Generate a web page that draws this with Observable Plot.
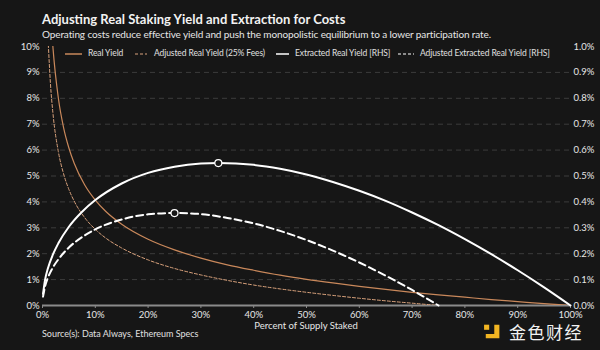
<!DOCTYPE html>
<html>
<head>
<meta charset="utf-8">
<script src="https://cdn.jsdelivr.net/npm/d3@7"></script>
<script src="https://cdn.jsdelivr.net/npm/@observablehq/plot@0.6"></script>
<style>
  html, body { margin: 0; padding: 0; background: #161616; }
  #page { position: relative; width: 600px; height: 350px; overflow: hidden; background: #161616; font-family: Lato, "Open Sans", sans-serif; color: #e8e8e8; }
  .abs { position: absolute; white-space: nowrap; line-height: 1; }
  #title { left: 42px; top: 13px; font-size: 13px; font-weight: 700; color: #f2f2f2; }
  #subtitle { left: 42px; top: 29px; font-size: 10px; letter-spacing: -0.12px; color: #e6e6e6; }
  #chart { position: absolute; left: 0; top: 0; }
  #xlabel { left: 306px; top: 321px; transform: translateX(-50%); font-size: 9.5px; color: #e6e6e6; }
  #source { left: 42px; top: 329px; font-size: 9px; color: #e0e0e0; }
  #wm { left: 483px; top: 323px; display: flex; align-items: center; line-height: 1; }
  #wm span { font-family: "Noto Sans CJK SC", sans-serif; font-size: 17px; line-height: 1; color: #f2f2f2; margin-left: 6px; letter-spacing: 1.5px; }
</style>
</head>
<body>
<div id="page">
  <div id="chart"></div>
  <div id="title" class="abs">Adjusting Real Staking Yield and Extraction for Costs</div>
  <div id="subtitle" class="abs">Operating costs reduce effective yield and push the monopolistic equilibrium to a lower participation rate.</div>
  <div id="legend"></div>
  <div id="xlabel" class="abs">Percent of Supply Staked</div>
  <div id="source" class="abs">Source(s): Data Always, Ethereum Specs</div>
  <div id="wm" class="abs">
    <svg width="20" height="17" viewBox="0 0 21 20"><rect x="0" y="2" width="6" height="6" fill="#f2b522"/><path d="M11 2 H18 V18 H2 V13 H12 V2 Z" fill="#f2b522"/></svg>
    <span>金色财经</span>
  </div>
</div>
<script>
// Percent of supply staked (x, %) and yields (%)
const realX = [1.9, 2, 3, 4, 5, 6, 8, 10, 12, 15, 20, 25, 30, 35, 40, 45, 50, 55, 60, 65, 70, 75, 80, 85, 90, 95, 100];
const realY = [10.18, 9.91, 8.01, 6.86, 6.08, 5.49, 4.65, 4.07, 3.63, 3.14, 2.56, 2.15, 1.83, 1.57, 1.36, 1.17, 1.01, 0.87, 0.74, 0.62, 0.51, 0.41, 0.32, 0.23, 0.15, 0.07, 0];

const adjX = [1.1, 1.5, 2, 3, 4, 5, 6, 8, 10, 12, 15, 20, 25, 30, 35, 40, 45, 50, 55, 60, 65, 70, 75];
const adjY = [10.08, 8.58, 7.38, 5.94, 5.08, 4.48, 4.03, 3.39, 2.94, 2.60, 2.22, 1.76, 1.43, 1.18, 0.97, 0.79, 0.64, 0.51, 0.39, 0.28, 0.18, 0.09, 0];

// Right-hand scale (RHS) series, in %
const extX = [0.1, 0.5, 1, 2, 3, 5, 7.5, 10, 15, 20, 25, 30, 33.3, 40, 45, 50, 55, 60, 65, 70, 75, 80, 85, 90, 95, 100];
const extY = [0.045, 0.101, 0.142, 0.198, 0.240, 0.304, 0.362, 0.407, 0.471, 0.512, 0.536, 0.548, 0.550, 0.543, 0.528, 0.506, 0.477, 0.443, 0.404, 0.359, 0.310, 0.256, 0.198, 0.136, 0.070, 0];

const adjExtX = [0.1, 0.5, 1, 2, 3, 5, 7.5, 10, 15, 20, 25, 30, 35, 40, 45, 50, 55, 60, 65, 70, 75];
const adjExtY = [0.034, 0.075, 0.106, 0.148, 0.178, 0.224, 0.264, 0.294, 0.332, 0.352, 0.357, 0.353, 0.338, 0.317, 0.288, 0.253, 0.212, 0.166, 0.115, 0.060, 0];

// Equilibrium markers (RHS)
const peakX = [33.3, 25];
const peakY = [0.550, 0.357];

const xTicks = [0, 10, 20, 30, 40, 50, 60, 70, 80, 90, 100];
const leftTicks = [0, 1, 2, 3, 4, 5, 6, 7, 8, 9, 10];
const rightTicks = [0, 0.1, 0.2, 0.3, 0.4, 0.5, 0.6, 0.7, 0.8, 0.9, 1.0];
const gridTicks = [1, 2, 3, 4, 5, 6, 7, 8, 9];

const legendLabels = ["Real Yield", "Adjusted Real Yield (25% Fees)", "Extracted Real Yield [RHS]", "Adjusted Extracted Real Yield [RHS]"];

const RHS = 10; // left units per right unit
const zip = (xs, ys) => xs.map((x, i) => ({x, y: ys[i]}));
const real = zip(realX, realY);
const adj = zip(adjX, adjY);
const ext = zip(extX, extY);
const adjExt = zip(adjExtX, adjExtY);
const peaks = zip(peakX, peakY);

const ORANGE = "#c9885b";
const ORANGE_L = "#d9a27c";

const chart = Plot.plot({
  width: 600,
  height: 350,
  marginLeft: 42,
  marginRight: 30,
  marginTop: 46,
  marginBottom: 45,
  style: {background: "transparent", color: "#e6e6e6", fontFamily: "Lato, 'Open Sans', sans-serif", fontSize: "9.5px"},
  x: {domain: [0, 100]},
  y: {domain: [0, 10]},
  marks: [
    Plot.ruleY(gridTicks, {stroke: "#3c3c3c", strokeDasharray: "5,4", strokeWidth: 1}),
    Plot.axisY({ticks: leftTicks, tickFormat: d => d + "%", tickSize: 0, tickPadding: 3, label: null}),
    Plot.axisY({anchor: "right", ticks: leftTicks, tickFormat: (d, i) => rightTicks[i].toFixed(1) + "%", tickSize: 0, tickPadding: 3, label: null}),
    Plot.axisX({ticks: xTicks, tickFormat: d => d + "%", tickSize: 3, tickPadding: 3, label: null, stroke: "#8a8a8a"}),
    Plot.ruleY([0], {stroke: "#8a8a8a", strokeWidth: 2}),
    Plot.line(adj, {x: "x", y: "y", stroke: ORANGE_L, strokeWidth: 1, strokeDasharray: "3,2", curve: "monotone-x", clip: true}),
    Plot.line(real, {x: "x", y: "y", stroke: ORANGE, strokeWidth: 1.2, curve: "monotone-x", clip: true}),
    Plot.line(adjExt, {x: "x", y: d => d.y * RHS, stroke: "#ffffff", strokeWidth: 2, strokeDasharray: "7,4", curve: "monotone-x"}),
    Plot.line(ext, {x: "x", y: d => d.y * RHS, stroke: "#ffffff", strokeWidth: 2, curve: "monotone-x"}),
    Plot.dot(peaks, {x: "x", y: d => d.y * RHS, r: 3.5, fill: "#161616", stroke: "#ffffff", strokeWidth: 1.2})
  ]
});
document.getElementById("chart").appendChild(chart);

// Legend
const legPos = [[65, 88], [135, 154], [276, 295], [398, 420]];
const legStyles = [
  {stroke: ORANGE, dash: null, w: 17, sw: 1.5},
  {stroke: ORANGE_L, dash: "3,2", w: 12, sw: 1.2},
  {stroke: "#ffffff", dash: null, w: 13, sw: 1.5},
  {stroke: "#ffffff", dash: "3,2", w: 16, sw: 1.2}
];
const legend = document.getElementById("legend");
legendLabels.forEach((lab, i) => {
  const s = legStyles[i];
  const sw = document.createElementNS("http://www.w3.org/2000/svg", "svg");
  sw.setAttribute("width", s.w); sw.setAttribute("height", 12);
  sw.style.position = "absolute"; sw.style.left = legPos[i][0] + "px"; sw.style.top = "48px";
  sw.innerHTML = `<line x1="0" x2="${s.w}" y1="6" y2="6" stroke="${s.stroke}" stroke-width="${s.sw}" ${s.dash ? `stroke-dasharray="${s.dash}"` : ""}/>`;
  legend.appendChild(sw);
  const t = document.createElement("div");
  t.className = "abs"; t.style.left = legPos[i][1] + "px"; t.style.top = "49px";
  t.style.fontSize = "8.5px"; t.style.letterSpacing = "-0.1px"; t.style.color = "#e0e0e0";
  t.textContent = lab;
  legend.appendChild(t);
});
</script>
</body>
</html>
